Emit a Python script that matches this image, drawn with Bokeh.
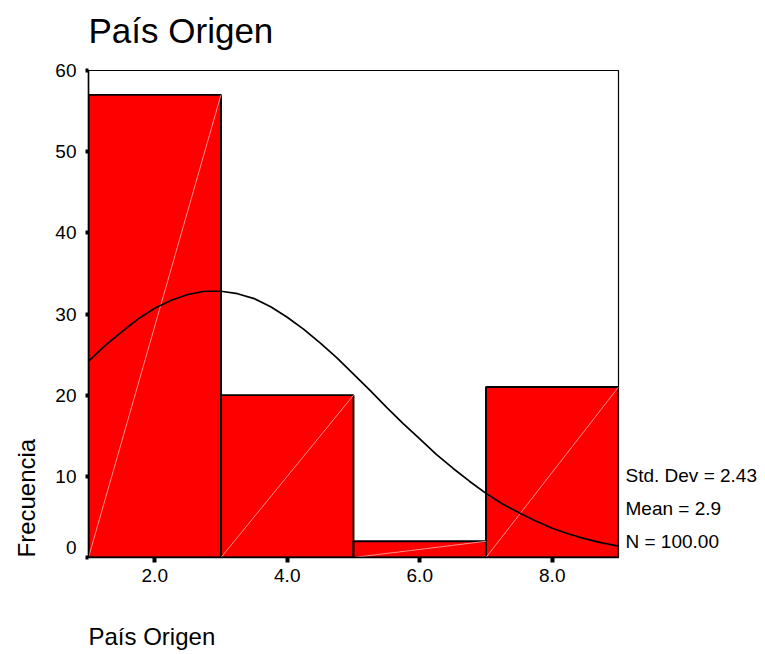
from bokeh.plotting import figure
from bokeh.models import FixedTicker, NumeralTickFormatter, Range1d, LinearAxis, Title
from bokeh.embed import file_html
from bokeh.resources import INLINE

# ---- data ----
bin_edges = [1, 3, 5, 7, 9]
counts = [57, 20, 2, 21]
curve_x = [1.0, 1.25, 1.5, 1.75, 2.0, 2.25, 2.5, 2.75, 3.0, 3.25, 3.5, 3.75, 4.0, 4.25,
           4.5, 4.75, 5.0, 5.25, 5.5, 5.75, 6.0, 6.25, 6.5, 6.75, 7.0, 7.25, 7.5, 7.75,
           8.0, 8.25, 8.5, 8.75, 9.0]
curve_y = [24.2, 26.1, 27.8, 29.4, 30.7, 31.7, 32.4, 32.8, 32.8, 32.5, 31.9, 30.9, 29.6, 28.1,
           26.4, 24.6, 22.6, 20.6, 18.5, 16.5, 14.6, 12.7, 11.0, 9.4, 7.9, 6.6, 5.5, 4.5,
           3.6, 2.9, 2.3, 1.8, 1.4]
x_ticks = [2, 4, 6, 8]
y_ticks = [0, 10, 20, 30, 40, 50, 60]
std_dev = "2.43"
mean = "2.9"
n_total = "100.00"
title_text = "País Origen"
x_label = "País Origen"
y_label = "Frecuencia"

FONT = "Liberation Sans"
Y_MAX = 60
FRAME_H = 654 - 70 - 97
PX = Y_MAX / FRAME_H  # data units per pixel (used for label placement only)

p = figure(width=765, height=654, output_backend="svg", toolbar_location=None,
           x_range=Range1d(1, 9), y_range=Range1d(0, Y_MAX),
           min_border_left=88, min_border_right=147, min_border_top=70, min_border_bottom=97)
p.background_fill_color = "white"
p.border_fill_color = "white"
p.outline_line_color = "black"
p.outline_line_width = 1.2
p.xgrid.visible = False
p.ygrid.visible = False

p.title.text = title_text
p.title.align = "left"
p.title.text_font = FONT
p.title.text_font_size = "35px"
p.title.text_font_style = "normal"
p.title.text_color = "black"
p.title.standoff = 14

lefts = bin_edges[:-1]
rights = bin_edges[1:]
p.quad(left=lefts, right=rights, bottom=0, top=counts,
       fill_color="#ff0000", line_color="black", line_width=1.9)
p.segment(x0=lefts, y0=[0] * len(counts), x1=rights, y1=counts,
          line_color="#ffb4b4", line_width=0.8)
p.line(curve_x, curve_y, line_color="black", line_width=1.7)

def style_axis(ax):
    ax.axis_line_color = "black"
    ax.axis_line_width = 1.5
    ax.major_tick_line_color = "black"
    ax.major_tick_line_width = 4
    ax.major_tick_in = 0
    ax.minor_tick_line_color = None
    ax.major_label_text_font = FONT
    ax.major_label_text_font_size = "19px"
    ax.major_label_text_color = "black"

def spacer(size, tick):
    # an axis with nothing visible, used only to reserve space in a side panel
    return LinearAxis(ticker=FixedTicker(ticks=[tick]), axis_line_color=None,
                      major_tick_line_color=None, minor_tick_line_color=None,
                      major_label_text_color=None, major_label_text_font_size="1px",
                      major_tick_in=0, minor_tick_in=0, minor_tick_out=0,
                      major_tick_out=size, major_label_standoff=0)

xa = p.xaxis[0]
style_axis(xa)
xa.ticker = FixedTicker(ticks=x_ticks)
xa.formatter = NumeralTickFormatter(format="0.0")
xa.major_tick_out = 5
xa.major_label_standoff = 6

# y axis: tick marks drawn as minor ticks at the values, labels as major ticks
# (the zero label sits a little above its tick, as in the reference)
label_pos = [t if t != 0 else t + 10 * PX for t in y_ticks]
ya = p.yaxis[0]
style_axis(ya)
ya.ticker = FixedTicker(ticks=label_pos, minor_ticks=y_ticks)
ya.major_label_overrides = {lp: str(t) for lp, t in zip(label_pos, y_ticks)}
ya.major_tick_line_color = None
ya.major_tick_out = 3
ya.minor_tick_line_color = "black"
ya.minor_tick_line_width = 4
ya.minor_tick_in = 0
ya.minor_tick_out = 3
ya.major_label_standoff = 9

# statistics text on the right
stats = ["N = " + n_total, "Mean = " + mean, "Std. Dev = " + std_dev]
stat_pos = [(16 + 33 * i) * PX for i in range(len(stats))]
ra = LinearAxis(ticker=FixedTicker(ticks=stat_pos),
                major_label_overrides={sp: s for sp, s in zip(stat_pos, stats)})
style_axis(ra)
ra.axis_line_color = None
ra.major_tick_line_color = None
ra.major_tick_out = 0
ra.major_label_standoff = 7
p.add_layout(ra, "right")

# spacing panels and axis titles
p.add_layout(spacer(14, 5), "above")
p.add_layout(spacer(33, 5), "below")
p.add_layout(Title(text=x_label, align="left", text_font=FONT, text_font_size="24px",
                   text_font_style="normal", text_color="black", standoff=6), "below")
p.add_layout(spacer(5, 30), "left")
p.add_layout(Title(text=y_label, align="left", text_font=FONT, text_font_size="24px",
                   text_font_style="normal", text_color="black", standoff=16), "left")

open("out.html", "w").write(file_html(p, INLINE))
